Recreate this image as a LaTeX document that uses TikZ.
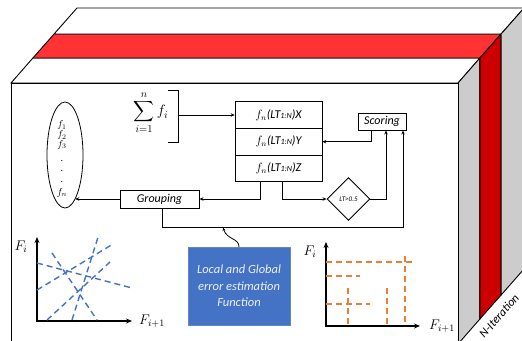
\RequirePackage{fix-cm}
\documentclass[tikz,border=0pt]{standalone}
\usepackage{exscale}
\usepackage{fontspec}
\setmainfont{Carlito}
\usetikzlibrary{shapes.geometric,arrows.meta}
\definecolor{redtop}{HTML}{FF3333}
\definecolor{redside}{HTML}{CC0000}
\definecolor{graysd}{HTML}{CCCCCC}
\definecolor{bluebx}{HTML}{4472C4}
\definecolor{orng}{HTML}{ED7D31}
\tikzset{
  edge/.style={draw=black,line width=0.9pt},
  rowbox/.style={draw,line width=0.6pt,minimum width=87pt,minimum height=26.7pt,inner sep=0pt,font=\fontsize{12}{14}\selectfont\itshape},
  smallbox/.style={draw,line width=0.9pt,inner sep=0pt,font=\fontsize{12}{14}\selectfont\itshape},
  arr/.style={line width=0.8pt,-{Stealth[length=4pt,width=3.5pt]}},
  axis/.style={line width=1.4pt,{Stealth[length=6pt,width=5pt]}-{Stealth[length=6pt,width=5pt]}},
  bdash/.style={bluebx,line width=1.4pt,dash pattern=on 6pt off 4pt},
  odash/.style={orng,line width=1.4pt,dash pattern=on 6pt off 4pt},
  lbl/.style={font=\fontsize{14}{16}\selectfont}
}
\newcommand{\fnrow}[1]{$f_n$(LT{\fontsize{8}{9}\selectfont 1:N})#1}
\begin{document}
\begin{tikzpicture}[x=1pt,y=-1pt]
\useasboundingbox (0,0) rectangle (522,340);
\begin{scope}
\clip (0,0) rectangle (522,340);
% top face strips
\filldraw[fill=white,edge] (11,83) -- (32.9,58) -- (479.9,58) -- (458,83) -- cycle;
\filldraw[fill=redtop,edge] (32.9,58) -- (54.1,34) -- (501.1,34) -- (479.9,58) -- cycle;
\filldraw[fill=white,edge] (54.1,34) -- (77,8) -- (524,8) -- (501.1,34) -- cycle;
% side face strips
\filldraw[fill=graysd,edge] (458,83) -- (479.9,58) -- (479.9,319) -- (458,344) -- cycle;
\filldraw[fill=redside,edge] (479.9,58) -- (501.1,34) -- (501.1,295) -- (479.9,319) -- cycle;
\filldraw[fill=graysd,edge] (501.1,34) -- (524,8) -- (524,269) -- (501.1,295) -- cycle;
% front face
\filldraw[fill=white,edge] (11,83) rectangle (458,344);
\end{scope}
\node[rotate=48.7,font=\fontsize{12}{14}\selectfont\itshape] (nit) at (499,316) {N-Iteration};

% ellipse of features
\node[draw,ellipse,line width=0.8pt,minimum width=36pt,minimum height=106pt,inner sep=0pt] (el) at (65,155) {};
\node[font=\fontsize{10}{8}\selectfont,align=center,inner sep=0pt] (ft) at (62,159) {$f_1$\\$f_2$\\$f_3$\\[6pt].\\[2pt].\\[3pt].\\[5pt]$f_n$};

% sum and bracket
\node[font=\fontsize{15}{18}\selectfont,inner sep=0pt] (sm) at (151,113) {$\displaystyle\sum_{i=1}^{n} f_i$};
\draw[line width=0.9pt] (168,90) -- (178,90) -- (178,142) -- (168,142);
\coordinate (br) at (178,115);

% table
\node[rowbox] (tx) at (278.5,115) {\fnrow{X}};
\node[rowbox] (ty) at (278.5,141.7) {\fnrow{Y}};
\node[rowbox] (tz) at (278.5,168.4) {\fnrow{Z}};

% scoring, grouping, decision
\node[smallbox,minimum width=48pt,minimum height=17pt] (sc) at (382,121.5) {Scoring};
\node[smallbox,minimum width=79pt,minimum height=18pt] (gr) at (159.5,199) {Grouping};
\node[draw,diamond,line width=0.9pt,minimum width=43pt,minimum height=43pt,inner sep=0pt,font=\fontsize{7}{8}\selectfont\itshape] (dm) at (348.5,199) {LT>0.5};

% blue function box
\node[fill=bluebx,draw=bluebx!85!white,minimum width=102pt,minimum height=78pt,inner sep=0pt,align=center,text=white!90!bluebx,font=\fontsize{12.5}{16.5}\selectfont\itshape] (fn) at (239,286) {Local and Global\\error estimation\\Function};

% connectors
\draw[arr] (br) -- (br -| tx.west);
\draw[arr] ([xshift=-11pt]sc.south) |- (ty.east);
\draw[arr] ([xshift=3.5pt]tz.south) |- (dm.west);
\draw[arr] (dm.east) -| ([xshift=4pt]sc.south);
\draw[arr] ([xshift=-18.5pt]tz.south) |- (gr.east);
\draw[arr] (gr.west) -- (gr.west -| el.-77);
\draw[arr] ([xshift=2.5pt]gr.south) -- ++(0,19) -| ([xshift=21pt]sc.south);
\coordinate (cw) at (223,227.5);
\draw[line width=0.8pt,-{Stealth[length=3.5pt,width=3pt]}] (fn.north) .. controls (239,238) and (227,240) .. (cw);

% left graph
\draw[axis] (37,237) |- (132,321);
\draw[bdash] (37,263) -- (132,288);
\draw[bdash] (37,290) -- (113,244);
\draw[bdash] (47,320) -- (110,262);
\draw[bdash] (72,320) -- (99,234);
\draw[bdash] (52,253) -- (97,320);
\node[lbl] (lfi) at (21,247) {$F_i$};
\node[lbl] (lfx) at (152,321) {$F_{i+1}$};

% right graph
\draw[axis] (326,242) |- (420,326);
\draw[odash] (326,262) -- (415,262);
\draw[odash] (326,276) -- (360,276);
\draw[odash] (326,304) -- (370,304);
\draw[odash] (348,288) -- (348,326);
\draw[odash] (387,288) -- (387,326);
\draw[odash] (405,256) -- (405,326);
\node[lbl] (rfi) at (310,252) {$F_i$};
\node[lbl] (rfx) at (442,326) {$F_{i+1}$};
\end{tikzpicture}
\end{document}
